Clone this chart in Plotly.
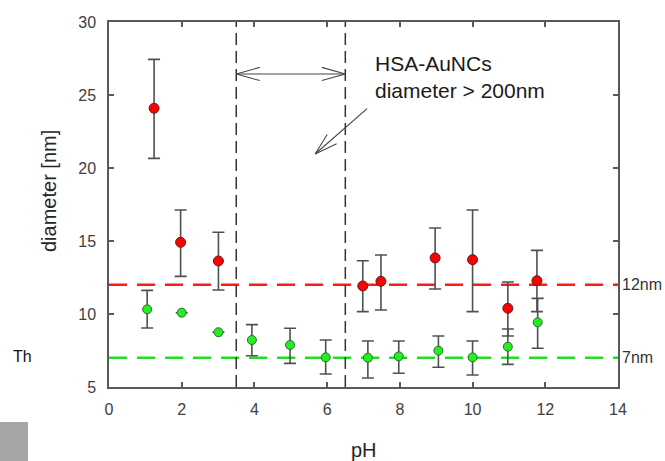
import plotly.graph_objects as go

# red series (larger particles)
red_ph = [1.24, 1.97, 3.01, 6.98, 7.48, 8.97, 10.0, 10.97, 11.77]
red_d = [24.09, 14.91, 13.63, 11.92, 12.24, 13.84, 13.72, 10.39, 12.28]
red_hi = [27.44, 17.12, 15.6, 13.65, 14.04, 15.89, 17.12, 12.19, 14.36]
red_lo = [20.66, 12.58, 11.64, 10.16, 10.27, 11.71, 10.16, 8.49, 10.16]

# green series
green_ph = [1.05, 2.0, 3.01, 3.93, 4.98, 5.96, 7.12, 7.97, 9.06, 10.0, 10.97, 11.79]
green_d = [10.32, 10.09, 8.75, 8.22, 7.88, 7.03, 7.0, 7.1, 7.49, 7.03, 7.76, 9.43]
green_hi = [11.62, None, None, 9.27, 9.02, 8.22, 8.15, 8.15, 8.49, 8.15, 8.97, 11.07]
green_lo = [9.04, None, None, 7.14, 6.62, 5.89, 5.62, 5.94, 6.35, 5.82, 6.55, 7.65]

ref_levels = [12, 7]
ref_labels = ["12nm", "7nm"]
ref_colors = ["#ff1a1a", "#22dd22"]
gap_edges = [3.5, 6.5]
arrow_y = 26.44

W, H = 665, 461
L, R, T, B = 109, 47, 22, 74
PW, PH = W - L - R, H - T - B


def px(x):
    return (x - L) / PW


def py(y):
    return (H - B - y) / PH


def err(vals, center):
    return [None if v is None else abs(v - c) for v, c in zip(vals, center)]


def line_ann(x, y, ax, ay, color="#444444"):
    # plain line from (x, y) in data units, offset ax/ay in pixels
    fig.add_annotation(x=x, y=y, ax=ax, ay=ay, xref="x", yref="y", text="",
                       showarrow=True, arrowhead=0, arrowwidth=1.1, arrowcolor=color)


fig = go.Figure()

fig.add_trace(go.Scatter(
    x=red_ph, y=red_d, mode="markers",
    marker=dict(color="#ff0000", size=10, line=dict(color="#5a2020", width=1)),
    error_y=dict(type="data", array=err(red_hi, red_d), arrayminus=err(red_lo, red_d),
                 color="#505050", thickness=1.6, width=6),
    showlegend=False,
))
fig.add_trace(go.Scatter(
    x=green_ph, y=green_d, mode="markers",
    marker=dict(color="#22ee22", size=9, line=dict(color="#2f6a2f", width=1)),
    error_y=dict(type="data", array=err(green_hi, green_d), arrayminus=err(green_lo, green_d),
                 color="#505050", thickness=1.6, width=6),
    showlegend=False,
))

# reference levels
for lvl, lab, col in zip(ref_levels, ref_labels, ref_colors):
    fig.add_hline(y=lvl, line=dict(color=col, width=2.5, dash="18px,10px"), layer="below")
    fig.add_annotation(x=1, xref="paper", y=lvl, yref="y", text=lab, showarrow=False,
                       xanchor="left", yanchor="middle", xshift=2,
                       font=dict(size=16, color="#333333"))

# unstable region
for xv in gap_edges:
    fig.add_vline(x=xv, line=dict(color="#333333", width=1.5, dash="12px,6px"))

# double arrow between the dashed lines
fig.add_annotation(x=gap_edges[1], y=arrow_y, ax=gap_edges[0], ay=arrow_y,
                   xref="x", yref="y", axref="x", ayref="y", text="",
                   showarrow=True, arrowhead=0, arrowwidth=1.1, arrowcolor="#444444")
for sgn, xv in zip([1, -1], gap_edges):
    line_ann(xv, arrow_y, sgn * 25, -7)
    line_ann(xv, arrow_y, sgn * 25, 7)

# pointer arrow
fig.add_annotation(x=5.67, y=20.96, ax=7.14, ay=24.16,
                   xref="x", yref="y", axref="x", ayref="y", text="",
                   showarrow=True, arrowhead=0, arrowwidth=1.1, arrowcolor="#444444")
line_ann(5.67, 20.96, 13, -21)
line_ann(5.67, 20.96, 23, -11)

fig.add_annotation(x=7.27, y=26.23, xref="x", yref="y", xanchor="left", yanchor="middle",
                   text="HSA-AuNCs<br>diameter > 200nm", showarrow=False, align="left",
                   font=dict(size=21, color="#1a1a1a"))

# axis titles
fig.add_annotation(x=px(49), xref="paper", y=py(191), yref="paper", text="diameter [nm]",
                   showarrow=False, textangle=-90, xanchor="center", yanchor="middle",
                   font=dict(size=20, color="#262626"))
fig.add_annotation(x=0.5, xref="paper", y=py(450), yref="paper", text="pH",
                   showarrow=False, xanchor="center", yanchor="middle",
                   font=dict(size=20, color="#262626"))

# leftovers from the page the chart was cut from
fig.add_annotation(x=px(11), xref="paper", y=py(356), yref="paper", text="Th",
                   showarrow=False, xanchor="left", yanchor="middle",
                   font=dict(size=16, color="#111111"))
fig.add_shape(type="rect", xref="paper", yref="paper",
              x0=px(0), x1=px(28), y0=py(461), y1=py(422),
              fillcolor="#a6a6a6", line=dict(width=0))

fig.update_layout(
    width=W, height=H,
    margin=dict(l=L, r=R, t=T, b=B),
    paper_bgcolor="white", plot_bgcolor="white",
    font=dict(family="Liberation Sans, Arial, sans-serif", color="#404040", size=16),
    xaxis=dict(range=[0, 14], dtick=2, ticks="inside", ticklen=5, tickwidth=1.5,
               tickcolor="#595959", showline=True, linecolor="#595959", linewidth=1.5,
               mirror="ticks", showgrid=False, zeroline=False, ticklabelstandoff=7),
    yaxis=dict(range=[5, 30], dtick=5, ticks="inside", ticklen=5, tickwidth=1.5,
               tickcolor="#595959", showline=True, linecolor="#595959", linewidth=1.5,
               mirror="ticks", showgrid=False, zeroline=False, ticklabelstandoff=8),
)

fig.write_html("out.html", config={"displayModeBar": False},
               post_script="document.body.style.margin='0';")
